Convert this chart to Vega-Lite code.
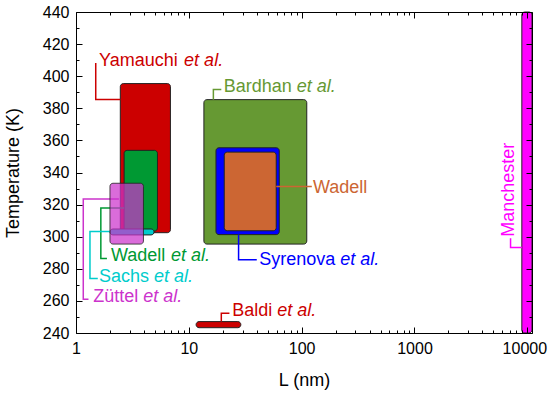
{
  "$schema": "https://vega.github.io/schema/vega-lite/v6.json",
  "width": 456,
  "height": 321,
  "autosize": "none",
  "padding": {"left": 76, "top": 12, "right": 16, "bottom": 60},
  "background": "white",
  "config": {
    "view": {"stroke": null},
    "font": "Liberation Sans",
    "text": {"font": "Liberation Sans"}
  },
  "datasets": {
    "boxes": [
      {"name": "Bardhan", "x1": 13.6, "x2": 111, "y1": 295.4, "y2": 385.4},
      {"name": "Syrenova", "x1": 17.4, "x2": 63.3, "y1": 301.3, "y2": 355.4},
      {"name": "Wadell", "x1": 20.6, "x2": 59.5, "y1": 303.7, "y2": 352.7},
      {"name": "Yamauchi", "x1": 2.47, "x2": 6.87, "y1": 302.5, "y2": 395.4},
      {"name": "Wadell et al.", "x1": 2.67, "x2": 5.27, "y1": 303.5, "y2": 353.8},
      {"name": "Sachs", "x1": 2.0, "x2": 4.92, "y1": 301.1, "y2": 304.8},
      {"name": "Baldi", "x1": 11.6, "x2": 28.9, "y1": 243.3, "y2": 247.1},
      {"name": "Manchester", "x1": 8940, "x2": 11000, "y1": 240, "y2": 440},
      {"name": "Züttel", "x1": 2.0, "x2": 3.96, "y1": 295.4, "y2": 333.3}
    ],
    "leaders": [
      {"name": "Yamauchi", "seq": 1, "x": 2.47, "y": 385.5},
      {"name": "Yamauchi", "seq": 2, "x": 1.496, "y": 385.5},
      {"name": "Yamauchi", "seq": 3, "x": 1.496, "y": 408.3},
      {"name": "Bardhan", "seq": 1, "x": 16.5, "y": 385.4},
      {"name": "Bardhan", "seq": 2, "x": 16.5, "y": 391.7},
      {"name": "Bardhan", "seq": 3, "x": 19.4, "y": 391.7},
      {"name": "Wadell", "seq": 1, "x": 59.5, "y": 331.3},
      {"name": "Wadell", "seq": 2, "x": 123, "y": 331.3},
      {"name": "Syrenova", "seq": 1, "x": 27.6, "y": 301.3},
      {"name": "Syrenova", "seq": 2, "x": 27.6, "y": 285.6},
      {"name": "Syrenova", "seq": 3, "x": 40, "y": 285.6},
      {"name": "Baldi", "seq": 1, "x": 19.4, "y": 247.1},
      {"name": "Baldi", "seq": 2, "x": 19.4, "y": 252.3},
      {"name": "Baldi", "seq": 3, "x": 22.9, "y": 252.3},
      {"name": "Wadell et al.", "seq": 1, "x": 2.67, "y": 317.9},
      {"name": "Wadell et al.", "seq": 2, "x": 1.66, "y": 317.9},
      {"name": "Wadell et al.", "seq": 3, "x": 1.66, "y": 286.4},
      {"name": "Wadell et al.", "seq": 4, "x": 1.88, "y": 286.4},
      {"name": "Sachs", "seq": 1, "x": 2.0, "y": 303.3},
      {"name": "Sachs", "seq": 2, "x": 1.33, "y": 303.3},
      {"name": "Sachs", "seq": 3, "x": 1.33, "y": 274},
      {"name": "Sachs", "seq": 4, "x": 1.56, "y": 274},
      {"name": "Züttel", "seq": 1, "x": 2.4, "y": 323.5},
      {"name": "Züttel", "seq": 2, "x": 1.16, "y": 323.5},
      {"name": "Züttel", "seq": 3, "x": 1.16, "y": 261},
      {"name": "Züttel", "seq": 4, "x": 1.29, "y": 261},
      {"name": "Manchester", "seq": 1, "x": 8940, "y": 293.3},
      {"name": "Manchester", "seq": 2, "x": 7100, "y": 293.3},
      {"name": "Manchester", "seq": 3, "x": 7100, "y": 299}
    ],
    "labels": [
      {"name": "Yamauchi", "label": "Yamauchi", "x": 1.6, "y": 409.2},
      {"name": "Bardhan", "label": "Bardhan", "x": 20.4, "y": 393},
      {"name": "Wadell", "label": "Wadell", "x": 126, "y": 330.5},
      {"name": "Syrenova", "label": "Syrenova", "x": 42, "y": 285.6},
      {"name": "Baldi", "label": "Baldi", "x": 24.2, "y": 253.9},
      {"name": "Wadell et al.", "label": "Wadell", "x": 2.04, "y": 287.9},
      {"name": "Sachs", "label": "Sachs", "x": 1.6, "y": 274.6},
      {"name": "Züttel", "label": "Züttel", "x": 1.42, "y": 262.7},
      {"name": "Manchester", "label": "Manchester", "x": 6870, "y": 300}
    ],
    "etal": [
      {"name": "Yamauchi", "label": "et al.", "x": 9.08, "y": 409.2},
      {"name": "Bardhan", "label": "et al.", "x": 90.6, "y": 393},
      {"name": "Syrenova", "label": "et al.", "x": 219.6, "y": 285.6},
      {"name": "Baldi", "label": "et al.", "x": 60.8, "y": 253.9},
      {"name": "Wadell et al.", "label": "et al.", "x": 6.95, "y": 287.9},
      {"name": "Sachs", "label": "et al.", "x": 4.92, "y": 274.6},
      {"name": "Züttel", "label": "et al.", "x": 3.95, "y": 262.7}
    ]
  },
  "resolve": {"axis": {"x": "independent", "y": "independent"}},
  "layer": [
    {
      "data": {"name": "boxes"},
      "transform": [{"filter": "datum.name !== 'Züttel'"}],
      "mark": {"type": "rect", "cornerRadius": 3, "stroke": "#222222", "strokeWidth": 1},
      "encoding": {
        "x": {"field": "x1", "type": "quantitative",
          "scale": {"type": "log", "domain": [1, 11000], "nice": false},
          "axis": {
            "orient": "bottom", "title": "L (nm)", "titleFontSize": 18, "titleFontWeight": "normal", "titleColor": "black", "titlePadding": 12,
            "values": [1,2,3,4,5,6,7,8,9,10,20,30,40,50,60,70,80,90,100,200,300,400,500,600,700,800,900,1000,2000,3000,4000,5000,6000,7000,8000,9000,10000],
            "labelExpr": "indexof([1,10,100,1000,10000], datum.value) >= 0 ? format(datum.value, 'd') : ''",
            "labelFontSize": 16, "labelColor": "black", "labelPadding": 13, "labelOverlap": false, "labelFlush": false,
            "labelOffset": {"condition": {"test": "datum.value === 10000", "value": -3}, "value": 0},
            "tickSize": {"condition": {"test": "indexof([1,10,100,1000,10000], datum.value) >= 0", "value": -6}, "value": -3},
            "tickColor": "black", "domainColor": "black", "grid": false, "zindex": 1
          }},
        "x2": {"field": "x2"},
        "y": {"field": "y1", "type": "quantitative",
          "scale": {"domain": [240, 440], "nice": false},
          "axis": {
            "orient": "left", "title": "Temperature (K)", "titleFontSize": 18, "titleFontWeight": "normal", "titleColor": "black", "titlePadding": 20,
            "values": [240,250,260,270,280,290,300,310,320,330,340,350,360,370,380,390,400,410,420,430,440],
            "labelExpr": "datum.value % 20 === 0 ? datum.label : ''",
            "labelFontSize": 16, "labelColor": "black", "labelPadding": 13, "labelOverlap": false, "labelFlush": false,
            "tickSize": {"condition": {"test": "datum.value % 20 === 0", "value": -6}, "value": -3},
            "tickColor": "black", "domainColor": "black", "grid": false, "zindex": 1
          }},
        "y2": {"field": "y2"},
        "fill": {"field": "name", "type": "nominal", "legend": null,
          "scale": {"domain": ["Yamauchi", "Wadell et al.", "Sachs", "Züttel", "Bardhan", "Syrenova", "Wadell", "Baldi", "Manchester"],
                    "range": ["#cc0000", "#009933", "#00cccc", "#cc33cc", "#669933", "#0000ff", "#cc6633", "#cc0000", "#ff00ff"]}}
      }
    },
    {
      "data": {"name": "leaders"},
      "mark": {"type": "line", "strokeWidth": 1.5, "interpolate": "linear"},
      "encoding": {
        "x": {"field": "x", "type": "quantitative",
          "scale": {"type": "log", "domain": [1, 11000], "nice": false},
          "axis": {
            "orient": "top", "title": null, "labels": false,
            "values": [1,2,3,4,5,6,7,8,9,10,20,30,40,50,60,70,80,90,100,200,300,400,500,600,700,800,900,1000,2000,3000,4000,5000,6000,7000,8000,9000,10000],
            "tickSize": {"condition": {"test": "indexof([1,10,100,1000,10000], datum.value) >= 0", "value": -6}, "value": -3},
            "tickColor": "black", "domainColor": "black", "grid": false, "zindex": 1
          }},
        "y": {"field": "y", "type": "quantitative",
          "scale": {"domain": [240, 440], "nice": false},
          "axis": {
            "orient": "right", "title": null, "labels": false,
            "values": [240,250,260,270,280,290,300,310,320,330,340,350,360,370,380,390,400,410,420,430,440],
            "tickSize": {"condition": {"test": "datum.value % 20 === 0", "value": -6}, "value": -3},
            "tickColor": "black", "domainColor": "black", "grid": false, "zindex": 1
          }},
        "order": {"field": "seq", "type": "quantitative"},
        "detail": {"field": "name", "type": "nominal"},
        "stroke": {"field": "name", "type": "nominal", "legend": null,
          "scale": {"domain": ["Yamauchi", "Wadell et al.", "Sachs", "Züttel", "Bardhan", "Syrenova", "Wadell", "Baldi", "Manchester"],
                    "range": ["#cc0000", "#009933", "#00cccc", "#cc33cc", "#669933", "#0000ff", "#cc6633", "#cc0000", "#ff00ff"]}}
      }
    },
    {
      "data": {"name": "boxes"},
      "transform": [{"filter": "datum.name === 'Züttel'"}],
      "mark": {"type": "rect", "cornerRadius": 3, "stroke": "#222222", "strokeWidth": 1, "fillOpacity": 0.72, "strokeOpacity": 0.8},
      "encoding": {
        "x": {"field": "x1", "type": "quantitative", "scale": {"type": "log", "domain": [1, 11000], "nice": false}, "axis": null},
        "x2": {"field": "x2"},
        "y": {"field": "y1", "type": "quantitative", "scale": {"domain": [240, 440], "nice": false}, "axis": null},
        "y2": {"field": "y2"},
        "fill": {"field": "name", "type": "nominal", "legend": null}
      }
    },
    {
      "data": {"name": "labels"},
      "transform": [{"filter": "datum.name !== 'Manchester'"}],
      "mark": {"type": "text", "align": "left", "baseline": "middle", "fontSize": 18, "font": "Liberation Sans"},
      "encoding": {
        "x": {"field": "x", "type": "quantitative", "scale": {"type": "log", "domain": [1, 11000], "nice": false}, "axis": null},
        "y": {"field": "y", "type": "quantitative", "scale": {"domain": [240, 440], "nice": false}, "axis": null},
        "text": {"field": "label"},
        "fill": {"field": "name", "type": "nominal", "legend": null}
      }
    },
    {
      "data": {"name": "etal"},
      "mark": {"type": "text", "align": "left", "baseline": "middle", "fontSize": 18, "fontStyle": "italic", "font": "Liberation Sans"},
      "encoding": {
        "x": {"field": "x", "type": "quantitative", "scale": {"type": "log", "domain": [1, 11000], "nice": false}, "axis": null},
        "y": {"field": "y", "type": "quantitative", "scale": {"domain": [240, 440], "nice": false}, "axis": null},
        "text": {"field": "label"},
        "fill": {"field": "name", "type": "nominal", "legend": null}
      }
    },
    {
      "data": {"name": "labels"},
      "transform": [{"filter": "datum.name === 'Manchester'"}],
      "mark": {"type": "text", "align": "left", "baseline": "middle", "fontSize": 18, "angle": 270, "font": "Liberation Sans"},
      "encoding": {
        "x": {"field": "x", "type": "quantitative", "scale": {"type": "log", "domain": [1, 11000], "nice": false}, "axis": null},
        "y": {"field": "y", "type": "quantitative", "scale": {"domain": [240, 440], "nice": false}, "axis": null},
        "text": {"field": "label"},
        "fill": {"field": "name", "type": "nominal", "legend": null}
      }
    }
  ]
}
